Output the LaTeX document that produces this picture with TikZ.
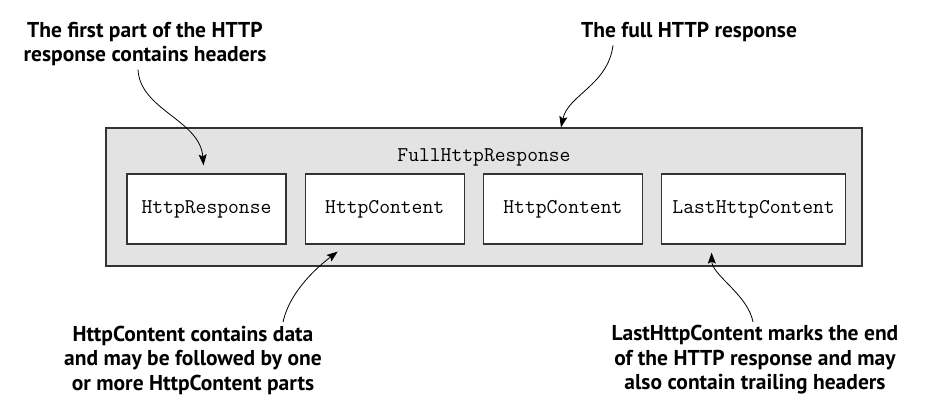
\documentclass[tikz,border=0pt]{standalone}
\usepackage{fontspec}
\setmainfont{PT Sans}
\usetikzlibrary{arrows.meta,positioning}

\begin{document}
\begin{tikzpicture}[
x=1pt, y=1pt,
node distance=18pt,
part/.style={draw=black!80, line width=1.2pt, fill=white, minimum width=159pt, minimum height=70pt, inner sep=0pt, font=\ttfamily\fontsize{21}{23}\selectfont},
note/.style={align=center, font=\bfseries\fontsize{21.5}{24.5}\selectfont},
callout/.style={-{Stealth[length=11pt,width=8pt,inset=2pt]}, line width=0.8pt}
]
\useasboundingbox (0,0) rectangle (930,416);

% -------- Full response --------
\node[draw=black!80, line width=1.2pt, fill=black!11, minimum width=756pt, minimum height=138pt] (full) at (484,219) {};
\node[font=\ttfamily\fontsize{21}{23}\selectfont] (fulllbl) at (484,259) {FullHttpResponse};

% -------- Parts --------
\node[part] (resp) at (206.5,207) {HttpResponse};
\node[part, right=of resp] (cont1) {HttpContent};
\node[part, right=of cont1] (cont2) {HttpContent};
\node[part, minimum width=184pt, right=of cont2] (last) {LastHttpContent};

% -------- Notes --------
\node[note] (headnote) at (145,372) {The first part of the HTTP\\response contains headers};
\node[note] (fullnote) at (689,384) {The full HTTP response};
\node[note] (contnote) at (193,56) {HttpContent contains data\\and may be followed by one\\or more HttpContent parts};
\node[note] (lastnote) at (755,56) {LastHttpContent marks the end\\of the HTTP response and may\\also contain trailing headers};

\draw[callout] ([xshift=-7pt]headnote.south) .. controls (140,306) and (200,296) .. ([shift={(-3pt,8pt)}]resp.north);
\draw[callout] ([xshift=-76pt]fullnote.south) .. controls (608,331) and (568,321) .. ([xshift=77pt]full.north);
\draw[callout] ([xshift=90pt]contnote.north) .. controls (290,126) and (320,151) .. ([shift={(-47pt,-7pt)}]cont1.south);
\draw[callout] ([xshift=-2pt]lastnote.north) .. controls (748,121) and (712,141) .. ([shift={(-42pt,-8pt)}]last.south);

\end{tikzpicture}
\end{document}
